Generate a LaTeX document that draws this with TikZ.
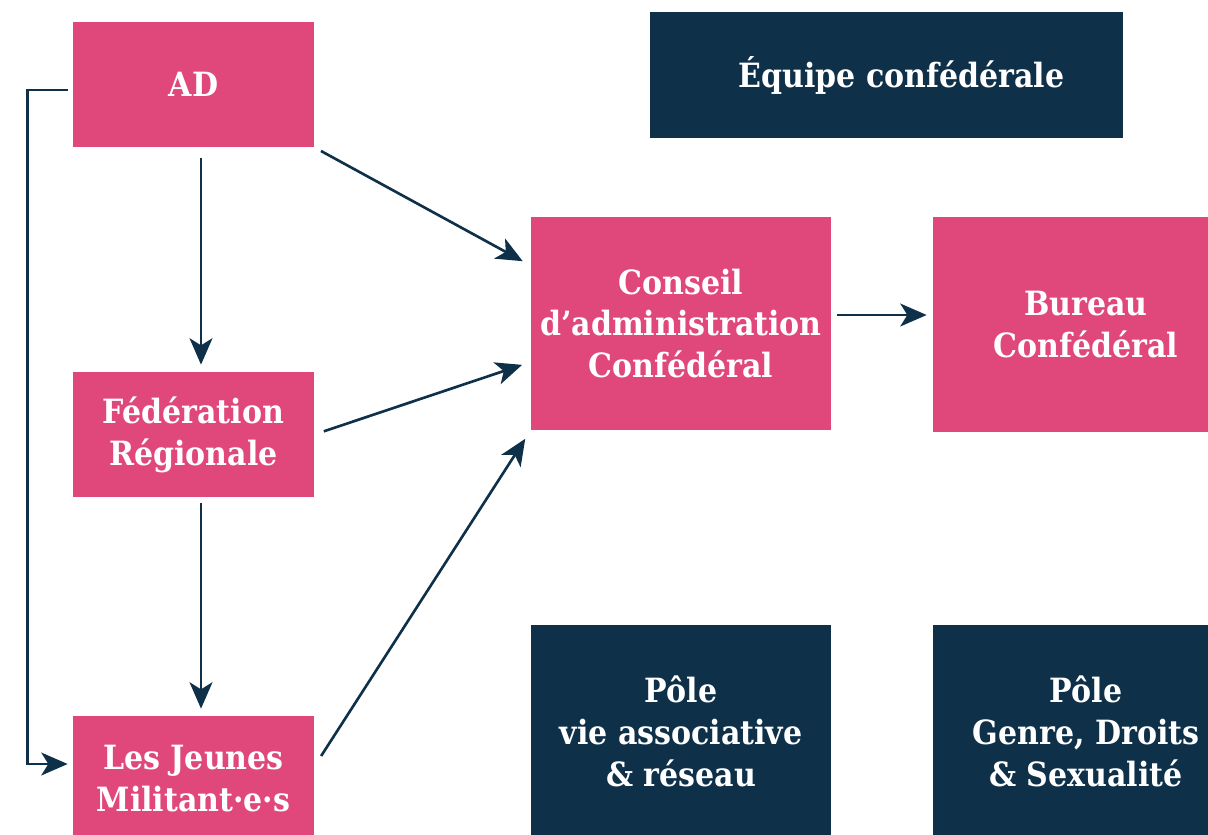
\documentclass[tikz,border=0pt]{standalone}
\usepackage{fontspec}
\setmainfont{DejaVu Serif Condensed}
\usetikzlibrary{arrows.meta}

\definecolor{rose}{HTML}{E0487B}
\definecolor{marine}{HTML}{0F3049}

\begin{document}
\begin{tikzpicture}[
    box/.style={text=white, font=\bfseries\fontsize{19}{23.8}\selectfont, align=center, inner sep=0pt},
    pinkbox/.style={box, fill=rose},
    navybox/.style={box, fill=marine},
    arr/.style={draw=marine, line width=1.5pt, -{Stealth[length=15pt,width=13pt,inset=4pt]}}
]
    \useasboundingbox (0,0) rectangle (24.16,-16.68);
    % boxes
    \node[pinkbox, minimum width=4.82cm, minimum height=2.5cm] (AD) at (3.87,-1.69) {AD};
    \node[pinkbox, minimum width=4.82cm, minimum height=2.5cm] (federation) at (3.87,-8.69) {Fédération\\Régionale};
    \node[pinkbox, minimum width=4.82cm, minimum height=2.5cm] (jeunes) at (3.87,-15.57) {Les Jeunes\\Militant·e·s};
    \node[pinkbox, minimum width=6cm, minimum height=4.26cm] (conseil) at (13.62,-6.47) {Conseil\\d’administration\\Confédéral};
    \node[pinkbox, minimum width=6.12cm, minimum height=4.3cm] (bureau) at (21.72,-6.49) {Bureau\\Confédéral};
    \node[navybox, minimum width=9.46cm, minimum height=2.52cm] (equipe) at (17.73,-1.5) {\hspace{0.6cm}Équipe confédérale};
    \node[navybox, minimum width=6cm, minimum height=4.26cm] (polevie) at (13.62,-14.63) {Pôle\\vie associative\\\& réseau};
    \node[navybox, minimum width=6.12cm, minimum height=4.26cm] (polegenre) at (21.72,-14.63) {Pôle\\Genre, Droits\\\& Sexualité};
    % arrows
    \draw[arr, shorten <=0.22cm, shorten >=0.14cm] ([xshift=0.15cm]AD.south) -- ([xshift=0.15cm]federation.north);
    \draw[arr, shorten <=0.12cm, shorten >=0.14cm] ([xshift=0.15cm]federation.south) -- ([xshift=0.15cm]jeunes.north);
    \draw[arr, shorten >=0.1cm] ([yshift=-0.11cm, xshift=-0.1cm]AD.west) -- ++(-0.8,0) |- ([yshift=0.29cm]jeunes.west);
    \draw[arr, shorten <=0.15cm, shorten >=0.18cm] (AD.south east) -- ([yshift=1.16cm]conseil.west);
    \draw[arr, shorten <=0.2cm, shorten >=0.18cm] (federation.east) -- ([yshift=-0.77cm]conseil.west);
    \draw[arr, shorten <=0.25cm, shorten >=0.2cm] ([yshift=0.24cm]jeunes.east) -- (conseil.south west);
    \draw[arr, shorten <=0.12cm, shorten >=0.12cm] ([yshift=0.17cm]conseil.east) -- ([yshift=0.17cm]conseil.east -| bureau.west);
\end{tikzpicture}
\end{document}
